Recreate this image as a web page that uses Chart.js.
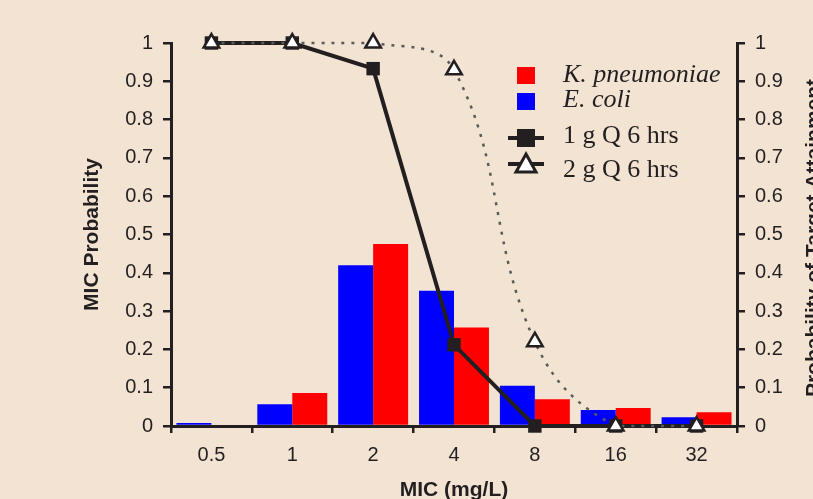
<!DOCTYPE html>
<html><head><meta charset="utf-8">
<script src="https://cdn.jsdelivr.net/npm/chart.js"></script>
<style>html,body{margin:0;padding:0;background:#F2E3D2;overflow:hidden}#wrap{width:813px;height:499px;position:relative}</style>
</head><body><div id="wrap"><canvas id="c" width="813" height="499"></canvas></div>
<script>
const categories = ['0.5', '1', '2', '4', '8', '16', '32'];
const kPneumoniae = [0, 0.086, 0.475, 0.257, 0.07, 0.047, 0.036];
const eColi = [0.008, 0.057, 0.42, 0.353, 0.105, 0.042, 0.023];
const pta1g = [1, 1, 0.933, 0.212, 0, 0, 0];
const pta2g = [1, 1, 1, 0.93, 0.22, 0, 0];
const yTicks = [0, 0.1, 0.2, 0.3, 0.4, 0.5, 0.6, 0.7, 0.8, 0.9, 1];
const seriesNames = ['K. pneumoniae', 'E. coli', '1 g Q 6 hrs', '2 g Q 6 hrs'];
const xTitle = 'MIC (mg/L)';
const yTitle = 'MIC Probability';
const y2Title = 'Probability of Target Attainment';

const BG = '#F2E3D2';
const INK = '#231F20';
const RED = '#FF0000';
const BLUE = '#0000FF';

const bgPlugin = {
  id: 'bg',
  beforeDraw(chart) {
    const ctx = chart.ctx;
    ctx.save();
    ctx.fillStyle = BG;
    ctx.fillRect(0, 0, chart.width, chart.height);
    ctx.restore();
  }
};

const rightTitlePlugin = {
  id: 'rightTitle',
  afterDraw(chart) {
    const ctx = chart.ctx;
    ctx.save();
    ctx.translate(814, 238);
    ctx.rotate(-Math.PI / 2);
    ctx.font = 'bold 21px "Liberation Sans", Arial, sans-serif';
    ctx.fillStyle = INK;
    ctx.textAlign = 'center';
    ctx.textBaseline = 'middle';
    ctx.fillText(y2Title, 0, 0);
    ctx.restore();
  }
};

const legendPlugin = {
  id: 'customLegend',
  afterDraw(chart) {
    const ctx = chart.ctx;
    const ds = chart.data.datasets;
    ctx.save();
    const sx = 526, tx = 563;
    ctx.fillStyle = ds[0].backgroundColor;
    ctx.fillRect(sx - 9, 67, 18, 17);
    ctx.fillStyle = ds[1].backgroundColor;
    ctx.fillRect(sx - 9, 93, 18, 17);
    ctx.fillStyle = INK;
    ctx.textBaseline = 'alphabetic';
    ctx.textAlign = 'left';
    ctx.font = 'italic 26px "Liberation Serif", "Times New Roman", serif';
    ctx.fillText(ds[0].label, tx, 82);
    ctx.fillText(ds[1].label, tx, 107);
    ctx.strokeStyle = INK;
    ctx.lineWidth = 4;
    ctx.beginPath(); ctx.moveTo(508, 138); ctx.lineTo(544, 138); ctx.stroke();
    ctx.fillStyle = INK;
    ctx.fillRect(sx - 9, 129, 18, 18);
    ctx.beginPath(); ctx.moveTo(508, 164); ctx.lineTo(544, 164); ctx.stroke();
    ctx.beginPath();
    ctx.moveTo(sx, 154); ctx.lineTo(sx + 10, 172); ctx.lineTo(sx - 10, 172); ctx.closePath();
    ctx.fillStyle = '#FFFFFF'; ctx.fill();
    ctx.lineWidth = 3; ctx.strokeStyle = INK; ctx.lineJoin = 'miter'; ctx.stroke();
    ctx.fillStyle = INK;
    ctx.font = '26px "Liberation Serif", "Times New Roman", serif';
    ctx.fillText(ds[2].label, tx, 143);
    ctx.fillText(ds[3].label, tx, 177);
    ctx.restore();
  }
};

const tickFont = { family: '"Liberation Sans", Arial, sans-serif', size: 20 };
const titleFont = { family: '"Liberation Sans", Arial, sans-serif', size: 21, weight: 'bold', lineHeight: 0.85 };
const fmt = v => Number(v.toFixed(1)).toString();

new Chart(document.getElementById('c'), {
  data: {
    labels: categories,
    datasets: [
      { type: 'bar', label: seriesNames[0], data: kPneumoniae, backgroundColor: RED, yAxisID: 'y',
        barPercentage: 1, categoryPercentage: 0.865, order: 3 },
      { type: 'bar', label: seriesNames[1], data: eColi, backgroundColor: BLUE, yAxisID: 'y',
        barPercentage: 1, categoryPercentage: 0.865, order: 2 },
      { type: 'line', label: seriesNames[2], data: pta1g, yAxisID: 'y2', borderColor: INK, borderWidth: 4,
        tension: 0, pointStyle: 'rect', pointRadius: 9.5, pointBackgroundColor: INK, pointBorderWidth: 0,
        clip: false, order: 1 },
      { type: 'line', label: seriesNames[3], data: pta2g, yAxisID: 'y2', borderColor: '#5a5a5a', borderWidth: 2.5,
        borderDash: [3, 7], tension: 0.4, pointStyle: 'triangle', pointRadius: 9, pointBackgroundColor: '#FFFFFF',
        pointBorderColor: INK, pointBorderWidth: 2.5, clip: false, order: 0 }
    ]
  },
  options: {
    responsive: false,
    animation: false,
    devicePixelRatio: 1,
    layout: { padding: { top: 43, left: 0, right: 0, bottom: 0 } },
    plugins: { legend: { display: false }, tooltip: { enabled: false } },
    scales: {
      x: {
        type: 'category',
        offset: true,
        grid: { offset: true, drawOnChartArea: false, drawTicks: true, tickLength: 7, color: INK, lineWidth: 2.5 },
        border: { display: true, color: INK, width: 3 },
        ticks: { font: tickFont, color: INK, padding: 10, maxRotation: 0 },
        title: { display: true, text: xTitle, font: titleFont, color: INK, padding: { top: 0, bottom: 0 } },
        afterFit(s) { s.height = 73; }
      },
      y: {
        position: 'left', min: 0, max: 1,
        afterBuildTicks(s) { s.ticks = yTicks.map(v => ({ value: v })); },
        grid: { drawOnChartArea: false, tickLength: 8, color: INK, lineWidth: 2.5 },
        border: { display: true, color: INK, width: 3 },
        ticks: { font: tickFont, color: INK, padding: 10, callback: v => fmt(v) },
        title: { display: true, text: yTitle, font: titleFont, color: INK, padding: { top: 83, bottom: 0 } },
        afterFit(s) { s.width = 171; }
      },
      y2: {
        position: 'right', min: 0, max: 1,
        afterBuildTicks(s) { s.ticks = yTicks.map(v => ({ value: v })); },
        grid: { drawOnChartArea: false, tickLength: 8, color: INK, lineWidth: 2.5 },
        border: { display: true, color: INK, width: 3 },
        ticks: { font: tickFont, color: INK, padding: 10, callback: v => fmt(v) },
        afterFit(s) { s.width = 76; }
      }
    }
  },
  plugins: [bgPlugin, legendPlugin, rightTitlePlugin]
});
</script>
</body></html>
